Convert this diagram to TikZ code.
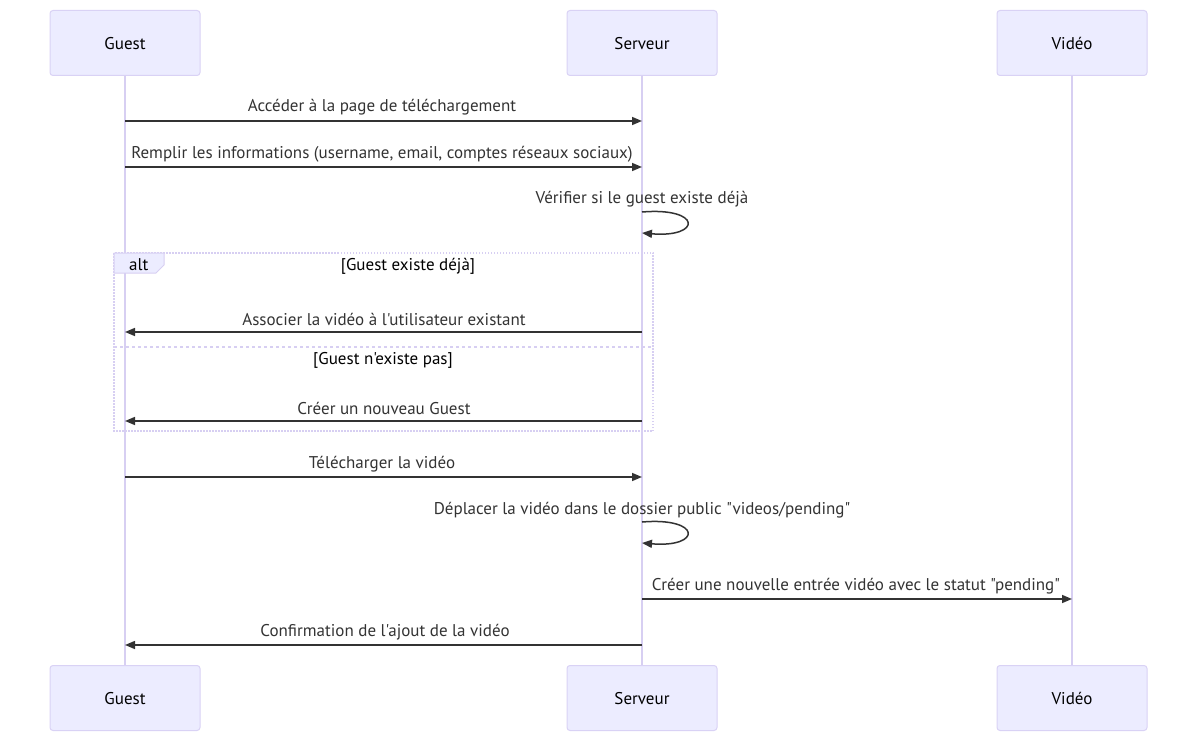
\documentclass[tikz,border=0pt]{standalone}
\usepackage{fontspec}
\newfontfamily\diagfont{PT Sans}
\usetikzlibrary{arrows.meta}
\definecolor{actfill}{HTML}{ECECFF}
\definecolor{actline}{HTML}{D9D2F5}
\definecolor{lifeline}{HTML}{D7CFF2}
\definecolor{msg}{HTML}{333333}
\begin{document}
\begin{tikzpicture}[x=1pt,y=-1pt,
  txt/.style={font=\diagfont\fontsize{17}{19}\selectfont},
  actor/.style={txt,draw=actline,fill=actfill,rounded corners=3pt,minimum width=150pt,minimum height=65pt,line width=1pt,inner sep=0pt,text height=13pt,text depth=0pt},
  life/.style={draw=lifeline,line width=1.5pt},
  msgline/.style={draw=msg,line width=1.5pt,-{Triangle[length=10pt,width=8pt]}},
  msglabel/.style={txt,text=msg,inner sep=0pt,text height=14pt,text depth=0pt},
  altbox/.style={draw=lifeline,line width=1.5pt,dash pattern=on 1.5pt off 1.5pt},
  sep/.style={draw=lifeline,line width=1.5pt,dash pattern=on 3pt off 3pt},
  guard/.style={txt,text=black,inner sep=0pt,text height=12pt,text depth=2pt}]
\useasboundingbox (0,0) rectangle (1197,741);
% participants
\node[actor] (gT) at (125,43) {Guest};
\node[actor] (sT) at (642,43) {Serveur};
\node[actor] (vT) at (1072,43) {Vidéo};
\node[actor] (gB) at (125,698) {Guest};
\node[actor] (sB) at (642,698) {Serveur};
\node[actor] (vB) at (1072,698) {Vidéo};
% lifelines
\draw[life] (gT.south) -- (gB.north);
\draw[life] (sT.south) -- (sB.north);
\draw[life] (vT.south) -- (vB.north);
% alt fragment
\draw[altbox] (114,253) rectangle (653,431);
\draw[sep] (114,347) -- (653,347);
\draw[draw=lifeline,fill=actfill,line width=1pt] (114,253) -- (164,253) -- (164,265) -- (156,273) -- (114,273) -- cycle;
\node[guard,anchor=west] (altlbl) at (129,265) {alt};
\node[guard] (g1) at (408,265) {[Guest existe déjà]};
\node[guard] (g2) at (383,359) {[Guest n'existe pas]};
% message anchor points on the lifelines
\foreach \n/\y in {1/121,2/167,5/332,7/421,8/477,10/599,11/645}{
  \coordinate (g\n) at (125,\y);
  \coordinate (s\n) at (642,\y);
  \coordinate (v\n) at (1072,\y);
}
\coordinate (sl3a) at (642,212); \coordinate (sl3b) at (642,233);
\coordinate (sl9a) at (642,522); \coordinate (sl9b) at (642,543);
% messages
\draw[msgline] (g1) -- (s1);
\node[msglabel] (m1) at (382,105) {Accéder à la page de téléchargement};
\draw[msgline] (g2) -- (s2);
\node[msglabel] (m2) at (382,151) {Remplir les informations (username, email, comptes réseaux sociaux)};
\draw[msgline] (sl3a) .. controls (702,207) and (702,238) .. (sl3b);
\node[msglabel] (m3) at (642,197) {Vérifier si le guest existe déjà};
\draw[msgline] (s5) -- (g5);
\node[msglabel] (m5) at (384,318) {Associer la vidéo à l'utilisateur existant};
\draw[msgline] (s7) -- (g7);
\node[msglabel] (m7) at (384,407) {Créer un nouveau Guest};
\draw[msgline] (g8) -- (s8);
\node[msglabel] (m8) at (382,461) {Télécharger la vidéo};
\draw[msgline] (sl9a) .. controls (702,517) and (702,548) .. (sl9b);
\node[msglabel] (m9) at (642,507) {Déplacer la vidéo dans le dossier public "videos/pending"};
\draw[msgline] (s10) -- (v10);
\node[msglabel] (m10) at (856,583) {Créer une nouvelle entrée vidéo avec le statut "pending"};
\draw[msgline] (s11) -- (g11);
\node[msglabel] (m11) at (385,629) {Confirmation de l'ajout de la vidéo};
\end{tikzpicture}
\end{document}
